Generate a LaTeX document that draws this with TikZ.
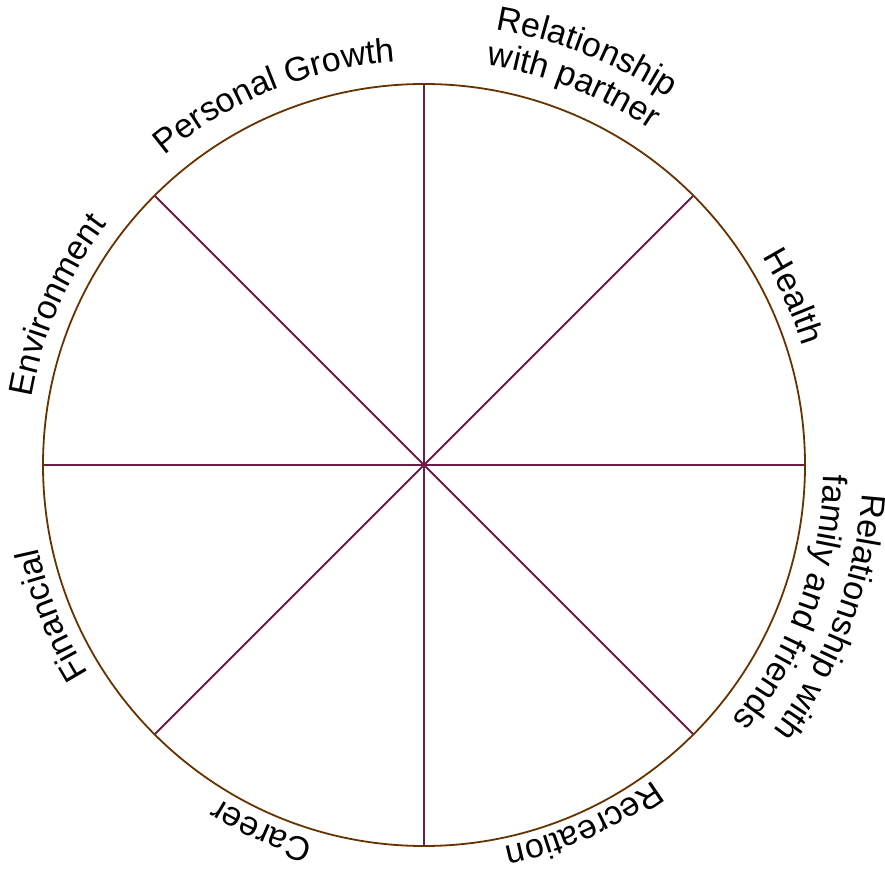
\documentclass[tikz,border=0pt]{standalone}
\usepackage{fontspec}
\setmainfont{Liberation Sans}
\usetikzlibrary{calc,decorations.text}
\definecolor{rimcol}{RGB}{102,51,0}
\definecolor{spokecol}{RGB}{110,30,70}
\newcommand{\lblfont}{\fontsize{34}{36}\selectfont}
\begin{document}
\begin{tikzpicture}[x=1pt, y=1pt,
  rim/.style={draw=rimcol, line width=1.8pt},
  spoke/.style={draw=spokecol, line width=1.8pt},
  curved/.style={decorate, decoration={text along path, text align=center, text={|\lblfont|#1}}}]
\useasboundingbox (0,0) rectangle (885,870);
% centre and rim points
\coordinate (o) at (424,405);
\coordinate (e) at ($(o)+(0:381)$);
\coordinate (ne) at ($(o)+(45:381)$);
\coordinate (n) at ($(o)+(90:381)$);
\coordinate (nw) at ($(o)+(135:381)$);
\coordinate (w) at ($(o)+(180:381)$);
\coordinate (sw) at ($(o)+(225:381)$);
\coordinate (s) at ($(o)+(270:381)$);
\coordinate (se) at ($(o)+(315:381)$);
% spokes
\draw[spoke] (w) -- (e);
\draw[spoke] (s) -- (n);
\draw[spoke] (sw) -- (ne);
\draw[spoke] (nw) -- (se);
\draw[rim] (o) circle[radius=381];
% labels round the rim
\path[curved={Personal Growth}] ($(o)+(139:404)$) arc[start angle=139, end angle=85, radius=404];
\path[curved={Relationship}] ($(o)+(98:441)$) arc[start angle=98, end angle=39, radius=441];
\path[curved={with partner}] ($(o)+(98:405)$) arc[start angle=98, end angle=39, radius=405];
\path[curved={Health}] ($(o)+(45:397)$) arc[start angle=45, end angle=4, radius=397];
\path[curved={Relationship with}] ($(o)+(9:439)$) arc[start angle=9, end angle=-50, radius=439];
\path[curved={family and friends}] ($(o)+(9:400)$) arc[start angle=9, end angle=-50, radius=400];
\path[curved={Recreation}] ($(o)+(-40:390)$) arc[start angle=-40, end angle=-92, radius=390];
\path[curved={Career}] ($(o)+(-94:392)$) arc[start angle=-94, end angle=-134, radius=392];
\path[curved={Financial}] ($(o)+(225:395)$) arc[start angle=225, end angle=179, radius=395];
\path[curved={Environment}] ($(o)+(185:398)$) arc[start angle=185, end angle=128, radius=398];
\end{tikzpicture}
\end{document}
